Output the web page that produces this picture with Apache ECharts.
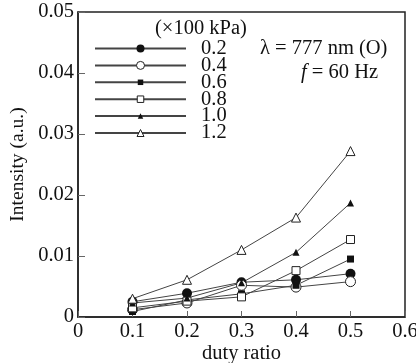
<!DOCTYPE html>
<html>
<head>
<meta charset="utf-8">
<script src="https://cdn.jsdelivr.net/npm/echarts@6/dist/echarts.min.js"></script>
<style>
  html, body { margin: 0; padding: 0; background: #fff; }
  #chart { width: 416px; height: 363px; }
</style>
</head>
<body>
<div id="chart"></div>
<script>
// duty ratio on x, intensity (a.u.) on y, one series per pressure (x100 kPa)
const dutyRatio = [0.1, 0.2, 0.3, 0.4, 0.5];
const pressures = ["0.2", "0.4", "0.6", "0.8", "1.0", "1.2"];
const p02 = [0.0025, 0.0039, 0.0057, 0.0061, 0.0071];
const p04 = [0.0012, 0.0023, 0.0052, 0.0049, 0.0058];
const p06 = [0.0009, 0.0028, 0.0038, 0.0052, 0.0095];
const p08 = [0.0015, 0.0026, 0.0033, 0.0076, 0.0127];
const p10 = [0.0023, 0.0031, 0.0056, 0.0106, 0.0187];
const p12 = [0.0030, 0.0061, 0.0110, 0.0163, 0.0272];
const xTickLabels = ["0", "0.1", "0.2", "0.3", "0.4", "0.5", "0.6"];
const yTickLabels = ["0", "0.01", "0.02", "0.03", "0.04", "0.05"];

const values = [p02, p04, p06, p08, p10, p12];
// open markers = white fill with a thin dark border
const symbols = ["circle", "circle", "rect", "rect", "triangle", "triangle"];
const hollow = [false, true, false, true, false, true];
const symbolSizes = [10, 10, 7, 8, 7, 9];
const legendSizes = [8, 8, 5.5, 6.5, 5.5, 7];
const serif = "Liberation Serif";

const chart = echarts.init(document.getElementById("chart"));

const series = pressures.map((name, i) => ({
  name,
  type: "line",
  data: dutyRatio.map((x, j) => [x, values[i][j]]),
  symbol: symbols[i],
  symbolSize: symbolSizes[i],
  lineStyle: { width: 1, color: "#444" },
  itemStyle: hollow[i]
    ? { color: "#fff", borderColor: "#222", borderWidth: 1 }
    : { color: "#111", borderColor: "#111", borderWidth: 0 },
  z: 2
}));

// one legend per entry so each marker keeps its own size
const legends = pressures.map((name, i) => ({
  data: [name],
  selectedMode: false,
  orient: "vertical",
  left: 94,
  top: 48 + i * 16.9 - 10,
  padding: 0,
  itemWidth: 91,
  itemHeight: legendSizes[i] / 0.8,
  itemStyle: { borderWidth: hollow[i] ? 1 : 0 },
  textStyle: { fontFamily: serif, fontSize: 20.5, color: "#111", padding: [0, 0, 0, 10] }
}));

chart.setOption({
  animation: false,
  grid: {
    left: 78, right: 11, top: 12, bottom: 46,
    outerBoundsMode: "none",
    show: true, borderColor: "#222", borderWidth: 1.5
  },
  legend: legends,
  xAxis: {
    type: "value",
    min: 0,
    max: 0.6,
    interval: 0.1,
    name: "duty ratio",
    nameLocation: "middle",
    nameGap: 26,
    nameMoveOverlap: false,
    nameTextStyle: { fontFamily: serif, fontSize: 20.5, color: "#111", verticalAlign: "top" },
    axisLine: { show: true, lineStyle: { color: "#222", width: 1.5 } },
    axisTick: { show: true, inside: true, length: 6, lineStyle: { color: "#666" } },
    splitLine: { show: false },
    axisLabel: {
      fontFamily: serif, fontSize: 20.5, color: "#111", margin: 4,
      formatter: (v) => xTickLabels[Math.round(v * 10)]
    }
  },
  yAxis: {
    type: "value",
    min: 0,
    max: 0.05,
    interval: 0.01,
    name: "Intensity (a.u.)",
    nameLocation: "middle",
    nameGap: 50,
    nameMoveOverlap: false,
    nameTextStyle: { fontFamily: serif, fontSize: 19.5, color: "#111" },
    axisLine: { show: true, lineStyle: { color: "#222", width: 1.5 } },
    axisTick: { show: true, inside: true, length: 7, lineStyle: { color: "#666" } },
    splitLine: { show: false },
    axisLabel: {
      fontFamily: serif, fontSize: 20.5, color: "#111", margin: 4,
      formatter: (v) => yTickLabels[Math.round(v * 100)]
    }
  },
  graphic: [
    {
      type: "text", left: 155, top: 18,
      style: { text: "(×100 kPa)", font: "20.5px " + serif, fill: "#111" }
    },
    {
      type: "text", left: 260, top: 38,
      style: { text: "λ = 777 nm (O)", font: "20.5px " + serif, fill: "#111" }
    },
    {
      type: "text", left: 301, top: 62,
      style: {
        text: "{i|f} = 60 Hz",
        font: "20.5px " + serif, fill: "#111",
        rich: { i: { fontStyle: "italic", fontFamily: serif, fontSize: 20.5, fill: "#111" } }
      }
    }
  ],
  series
});

window.addEventListener("resize", () => chart.resize());
</script>
</body>
</html>
